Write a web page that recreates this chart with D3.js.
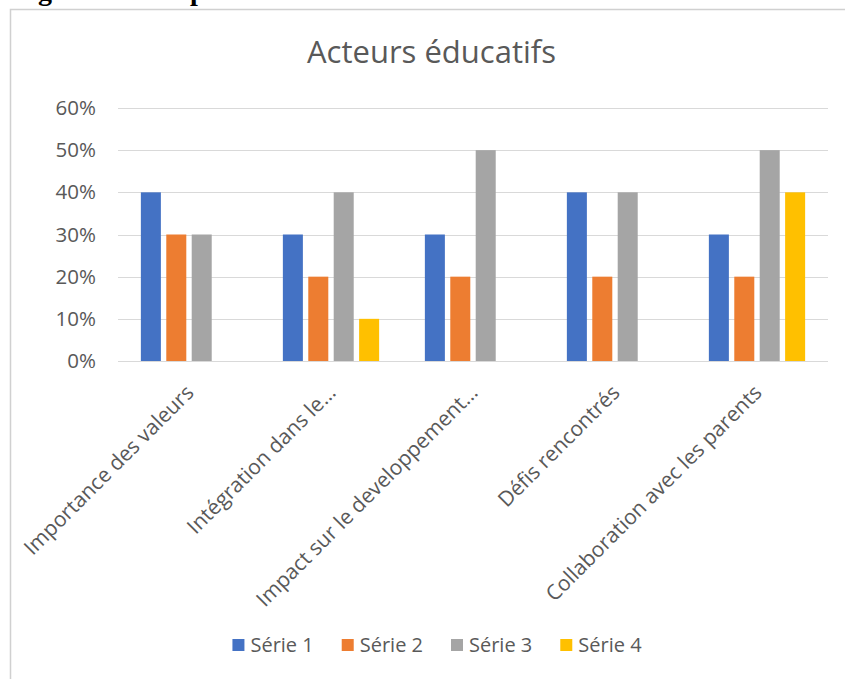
<!DOCTYPE html>
<html>
<head>
<meta charset="utf-8">
<script src="https://cdn.jsdelivr.net/npm/d3@7"></script>
<style>
  html, body { margin: 0; padding: 0; background: #fff; }
  svg { display: block; }
</style>
</head>
<body>
<svg id="chart" width="845" height="679"></svg>
<script>
const categories = [
  "Importance des valeurs",
  "Intégration dans le…",
  "Impact sur le developpement…",
  "Défis rencontrés",
  "Collaboration avec les parents"
];
const seriesNames = ["Série 1", "Série 2", "Série 3", "Série 4"];
const serie1 = [0.40, 0.30, 0.30, 0.40, 0.30];
const serie2 = [0.30, 0.20, 0.20, 0.20, 0.20];
const serie3 = [0.30, 0.40, 0.50, 0.40, 0.50];
const serie4 = [0.00, 0.10, 0.00, 0.00, 0.40];
const seriesColors = ["#4472C4", "#ED7D31", "#A5A5A5", "#FFC000"];
const yTicks = [0, 0.1, 0.2, 0.3, 0.4, 0.5, 0.6];
const chartTitle = "Acteurs éducatifs";

const allSeries = [serie1, serie2, serie3, serie4];
const FONT = "'Open Sans', 'Noto Sans', sans-serif";
const TXT = "#595959";

const svg = d3.select("#chart");

// Heading of the page, mostly above the visible area (only descenders show)
const head = svg.append("text")
  .attr("y", 0)
  .attr("font-family", "'Liberation Serif', serif")
  .attr("font-weight", "bold")
  .attr("font-size", 28)
  .attr("fill", "#000");
head.append("tspan").attr("x", 13).text("Figure 3 :");
head.append("tspan").attr("x", 190).text("présentation des résultats");

// Chart frame
svg.append("rect")
  .attr("x", 10.5).attr("y", 9.5)
  .attr("width", 900).attr("height", 720)
  .attr("fill", "#fff")
  .attr("stroke", "#d0d0d0")
  .attr("stroke-width", 1.5);

const plotLeft = 118, plotRight = 828, plotTop = 108, plotBottom = 361;

const y = d3.scaleLinear().domain([0, 0.6]).range([plotBottom, plotTop]);
const x0 = d3.scaleBand().domain(categories).range([plotLeft, plotRight])
  .paddingInner(0.322).paddingOuter(0.161);
const x1 = d3.scaleBand().domain(seriesNames).range([0, x0.bandwidth()])
  .paddingInner(0.2126).paddingOuter(0);

// Gridlines
svg.append("g").selectAll("line").data(yTicks).join("line")
  .attr("x1", plotLeft).attr("x2", plotRight)
  .attr("y1", d => Math.round(y(d)) + 0.5).attr("y2", d => Math.round(y(d)) + 0.5)
  .attr("stroke", "#d9d9d9").attr("stroke-width", 1.2);

// Y axis labels
const yAxis = d3.axisLeft(y).tickValues(yTicks).tickFormat(d3.format(".0%")).tickSize(0).tickPadding(0);
const gy = svg.append("g").attr("transform", `translate(96,0)`).call(yAxis);
gy.select(".domain").remove();
gy.selectAll("text")
  .attr("font-family", FONT).attr("font-size", 20.5).attr("fill", TXT);

// Bars
const groups = svg.append("g").selectAll("g").data(categories).join("g")
  .attr("transform", d => `translate(${x0(d)},0)`);
groups.selectAll("rect")
  .data((c, i) => seriesNames.map((s, j) => ({ s, v: allSeries[j][i], color: seriesColors[j] })))
  .join("rect")
  .attr("x", d => x1(d.s))
  .attr("width", x1.bandwidth())
  .attr("y", d => y(d.v))
  .attr("height", d => y(0) - y(d.v))
  .attr("fill", d => d.color);

// Category labels (rotated)
const xAxis = d3.axisBottom(x0).tickSize(0).tickPadding(0);
const gx = svg.append("g").attr("transform", `translate(0,${plotBottom})`).call(xAxis);
gx.select(".domain").remove();
gx.selectAll(".tick text")
  .attr("font-family", FONT).attr("font-size", 21).attr("fill", TXT)
  .attr("text-anchor", "end")
  .attr("dy", null).attr("y", null)
  .attr("transform", "translate(6,33) rotate(-45)");

// Title
svg.append("text")
  .attr("x", 431.5).attr("y", 63)
  .attr("text-anchor", "middle")
  .attr("font-family", FONT).attr("font-size", 31).attr("fill", TXT)
  .text(chartTitle);

// Legend
const legend = svg.append("g");
const items = legend.selectAll("g").data(seriesNames).join("g");
items.append("rect").attr("width", 12).attr("height", 12).attr("y", -6)
  .attr("fill", (d, i) => seriesColors[i]);
items.append("text").attr("x", 18).attr("dy", "0.35em")
  .attr("font-family", FONT).attr("font-size", 20).attr("fill", TXT)
  .text(d => d);
let xpos = 0;
const offsets = [];
items.each(function () {
  const w = this.querySelector("text").getComputedTextLength();
  offsets.push(xpos);
  xpos += 18 + w + 28;
});
const totalW = xpos - 28;
const legendStart = 437 - totalW / 2;
items.attr("transform", (d, i) => `translate(${legendStart + offsets[i]},645)`);
</script>
</body>
</html>
